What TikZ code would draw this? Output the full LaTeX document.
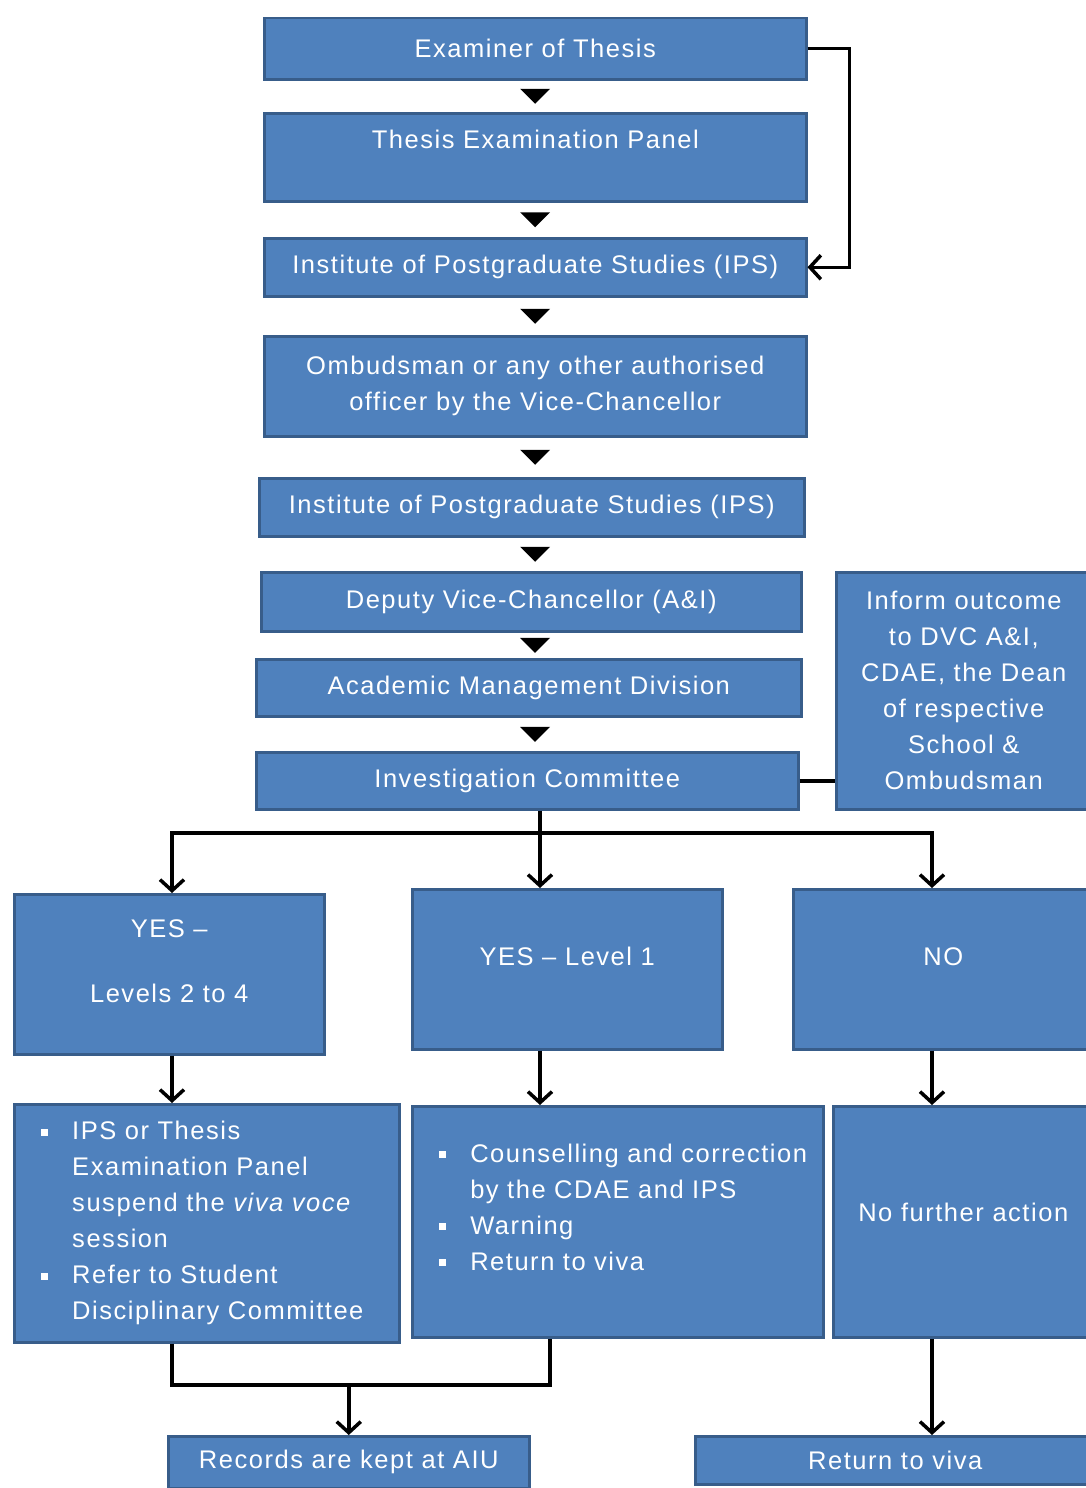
\documentclass[tikz,border=0pt]{standalone}
\usepackage{fontspec}
\setmainfont{Liberation Sans}[LetterSpace=6]
\usepackage{tikz}
\usetikzlibrary{calc}
\usetikzlibrary{arrows.meta}

\definecolor{boxblue}{HTML}{4F81BD}
\definecolor{boxline}{HTML}{385D8A}

\newcommand{\bul}{\makebox[31pt][l]{\rule[4pt]{7pt}{7pt}}}
\newcommand{\ind}{\hspace*{31pt}}

\tikzset{
  stage/.style={draw=boxline, line width=2.5pt, fill=boxblue, text=white,
    anchor=north west, inner sep=4pt, align=center,
    font=\fontsize{25.5}{36}\selectfont},
  points/.style={stage, align=left, inner xsep=27pt},
  flow/.style={line width=3.5pt, -{Straight Barb[length=11pt,width=24pt]}},
  link/.style={line width=3.5pt},
}

\begin{document}
\begin{tikzpicture}[x=1pt, y=-1pt]
  \useasboundingbox (0,0) rectangle (1085,1488);

  \node [stage, minimum width=542pt, minimum height=61pt]  (exam)   at (263,17)  {Examiner of Thesis};
  \node [stage, minimum width=542pt, minimum height=88pt]  (panel)  at (263,112) {Thesis Examination Panel\\ \mbox{}};
  \node [stage, minimum width=542pt, minimum height=58pt]  (ips)    at (263,237) {Institute of Postgraduate Studies (IPS)};
  \node [stage, minimum width=542pt, minimum height=100pt] (ombud)  at (263,335) {Ombudsman or any other authorised\\officer by the Vice-Chancellor};
  \node [stage, minimum width=545pt, minimum height=58pt]  (ipsb)   at (258,477) {Institute of Postgraduate Studies (IPS)};
  \node [stage, minimum width=540pt, minimum height=59pt]  (dvc)    at (260,571) {Deputy Vice-Chancellor (A\&I)};
  \node [stage, minimum width=545pt, minimum height=57pt]  (amd)    at (255,658) {Academic Management Division};
  \node [stage, minimum width=542pt, minimum height=57pt]  (inv)    at (255,751) {Investigation Committee};
  \node [stage, minimum width=255pt, minimum height=237pt] (inform) at (835,571)
    {Inform outcome\\to DVC A\&I,\\CDAE, the Dean\\of respective\\School \&\\Ombudsman};

  \node [stage, minimum width=310pt, minimum height=160pt] (yesb) at (13,893)  {YES --\\[29pt]Levels 2 to 4\\[-9pt]\mbox{}};
  \node [stage, minimum width=310pt, minimum height=160pt] (yesa) at (411,888) {YES -- Level 1\\[-10pt]\mbox{}};
  \node [stage, minimum width=300pt, minimum height=160pt] (no)   at (792,888) {NO\\[-10pt]\mbox{}};

  \node [points, text width=331pt, minimum height=238pt] (suspend) at (13,1103)
    {\bul IPS or Thesis\\
     \ind Examination Panel\\
     \ind suspend the \textit{viva voce}\\
     \ind session\\
     \bul Refer to Student\\
     \ind Disciplinary Committee};
  \node [points, text width=357pt, minimum height=231pt] (counsel) at (411,1105)
    {\bul \mbox{Counselling and correction}\\
     \ind by the CDAE and IPS\\
     \bul Warning\\
     \bul Return to viva\\[-6pt]\mbox{}};
  \node [stage, minimum width=260pt, minimum height=231pt] (nofurther) at (832,1105) {No further action\\[-16pt]\mbox{}};

  \node [stage, minimum width=361pt, minimum height=52pt] (records) at (167,1435) {Records are kept at AIU};
  \node [stage, minimum width=400pt, minimum height=48pt] (retviva) at (694,1435) {Return to viva};

  \coordinate (tcol)  at (535,0);
  \coordinate (split) at (540,833);
  \coordinate (lcol)  at (172,1385);
  \coordinate (mcol)  at (550,1385);
  \coordinate (ncol)  at (932,0);

  % small arrowheads down the column
  \foreach \a/\b in {exam/panel, panel/ips, ips/ombud, ombud/ipsb, ipsb/dvc, dvc/amd, amd/inv}
    \fill ($(\a.south)!0.5!(\b.north)$) coordinate (m)
      (tcol |- m) ++(-15,-7.5) -- ++(30,0) -- ++(-15,15) -- cycle;

  \draw [flow] (exam.east) -- ++(42,0) |- (ips.east);
  \draw [link] (inv.east) -- (inform.west |- inv.east);

  \draw [flow] (split |- inv.south) -- (split |- yesa.north);
  \draw [flow] (split) -| (lcol |- yesb.north);
  \draw [flow] (split) -| (ncol |- no.north);

  \draw [flow] (lcol |- yesb.south) -- (lcol |- suspend.north);
  \draw [flow] (split |- yesa.south) -- (split |- counsel.north);
  \draw [flow] (ncol |- no.south) -- (ncol |- nofurther.north);

  \draw [link] (lcol |- suspend.south) -- (lcol) -- (mcol) -- (mcol |- counsel.south);
  \draw [flow] (records.north |- lcol) -- (records.north);
  \draw [flow] (ncol |- nofurther.south) -- (ncol |- retviva.north);
\end{tikzpicture}
\end{document}
